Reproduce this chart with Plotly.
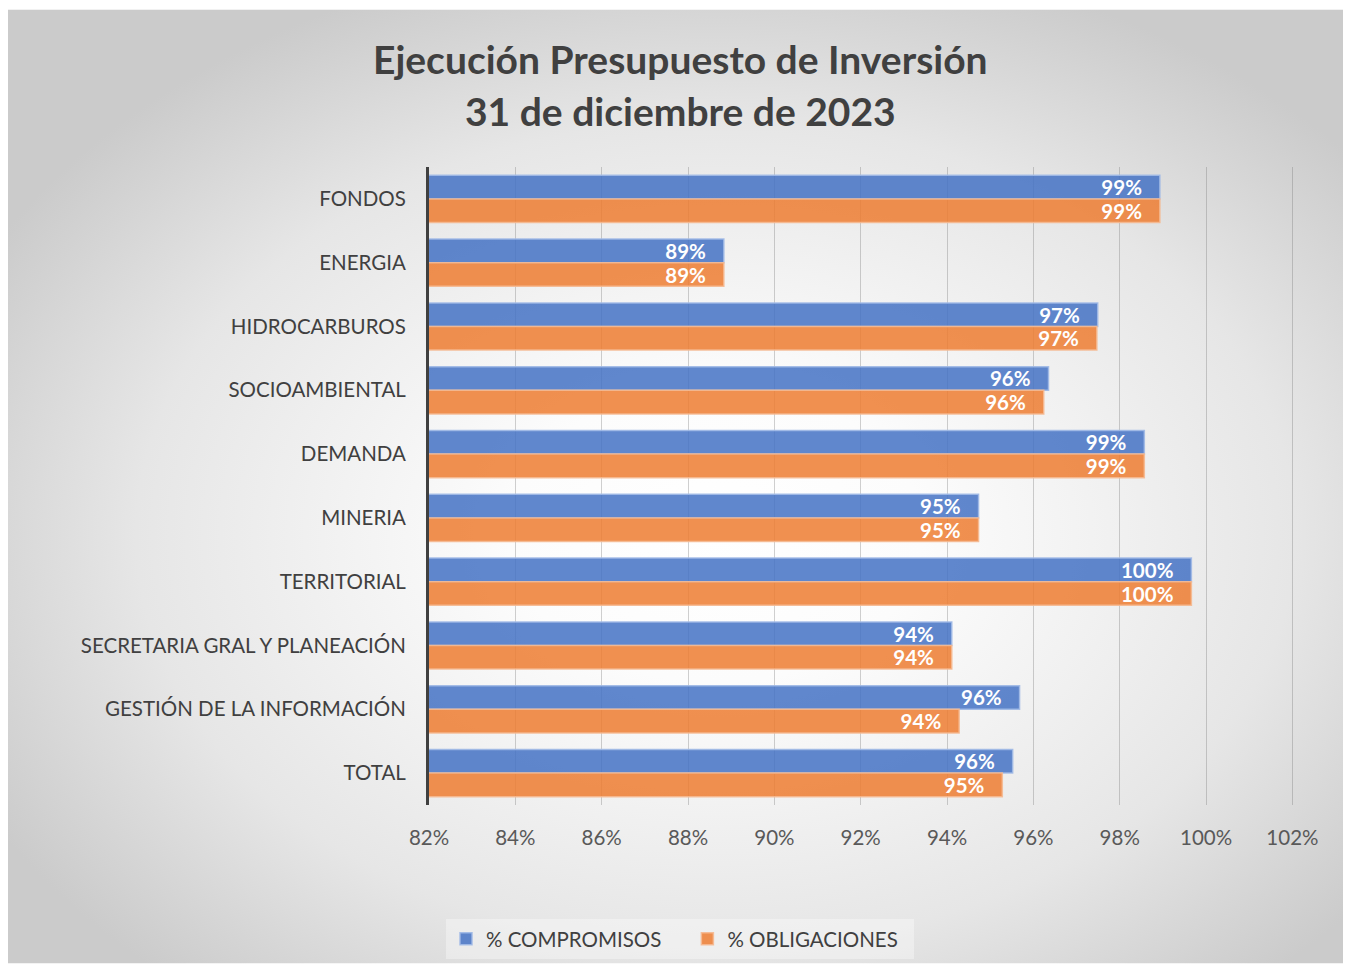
import base64
import plotly.graph_objects as go

# ---- data ----
categories = ["FONDOS", "ENERGIA", "HIDROCARBUROS", "SOCIOAMBIENTAL", "DEMANDA",
              "MINERIA", "TERRITORIAL", "SECRETARIA GRAL Y PLANEACIÓN",
              "GESTIÓN DE LA INFORMACIÓN", "TOTAL"]
compromisos = [98.93, 88.83, 97.49, 96.35, 98.57, 94.73, 99.66, 94.11, 95.68, 95.52]
obligaciones = [98.93, 88.83, 97.47, 96.24, 98.57, 94.73, 99.66, 94.11, 94.28, 95.28]
tick_vals = [82, 84, 86, 88, 90, 92, 94, 96, 98, 100, 102]
tick_text = ["82%", "84%", "86%", "88%", "90%", "92%", "94%", "96%", "98%", "100%", "102%"]
series_names = ["% COMPROMISOS", "% OBLIGACIONES"]

W, H = 1335, 963
FONT = "Lato"
PL, PR, PT, PB = 421, 48, 159, 160
PW, PH = W - PL - PR, H - PT - PB

svg = f'''<svg xmlns="http://www.w3.org/2000/svg" width="{W}" height="{H}">
<defs><radialGradient id="g" cx="0.53" cy="0.55" r="0.62">
<stop offset="0" stop-color="#FFFFFF"/>
<stop offset="0.25" stop-color="#FCFCFC"/>
<stop offset="0.7" stop-color="#E6E6E6"/>
<stop offset="1" stop-color="#CBCBCB"/>
</radialGradient></defs>
<rect x="0" y="0" width="{W}" height="{H}" fill="url(#g)"/>
</svg>'''
bg_src = "data:image/svg+xml;base64," + base64.b64encode(svg.encode()).decode()

fig = go.Figure()
fig.add_trace(go.Bar(
    y=categories, x=compromisos, orientation="h", name=series_names[0] + "\u00a0\u00a0\u00a0\u00a0",
    marker=dict(color="rgba(68,114,196,0.85)", line=dict(color="rgba(160,185,230,0.9)", width=1.5)),
    texttemplate="%{x:.0f}%\u00a0\u00a0\u00a0", textposition="inside", insidetextanchor="end",
    textfont=dict(family=FONT, size=20.5, color="white", weight="bold"),
    constraintext="none", cliponaxis=False,
))
fig.add_trace(go.Bar(
    y=categories, x=obligaciones, orientation="h", name=series_names[1] + "\u00a0\u00a0",
    marker=dict(color="rgba(237,125,49,0.85)", line=dict(color="rgba(245,185,145,0.9)", width=1.5)),
    texttemplate="%{x:.0f}%\u00a0\u00a0\u00a0", textposition="inside", insidetextanchor="end",
    textfont=dict(family=FONT, size=20.5, color="white", weight="bold"),
    constraintext="none", cliponaxis=False,
))

fig.update_layout(
    width=W, height=H,
    margin=dict(l=PL, r=PR, t=PT, b=PB),
    paper_bgcolor="white", plot_bgcolor="rgba(0,0,0,0)",
    barmode="group", bargap=0.26, bargroupgap=0,
    font=dict(family=FONT, color="#404040", size=20),
    images=[dict(source=bg_src, xref="paper", yref="paper", x=-PL / PW, y=1 + PT / PH,
                 sizex=W / PW, sizey=H / PH, xanchor="left", yanchor="top",
                 sizing="stretch", layer="below")],
    xaxis=dict(range=[82, 102.06], tickvals=tick_vals, ticktext=tick_text,
               showgrid=True, gridcolor="rgba(120,120,120,0.35)", gridwidth=1,
               zeroline=False, showline=False, ticks="", ticklabelstandoff=18,
               tickfont=dict(family=FONT, size=20.5, color="#595959")),
    yaxis=dict(autorange="reversed", showline=True, linecolor="#404040", linewidth=3,
               showgrid=False, ticks="", ticklabelstandoff=16,
               tickfont=dict(family=FONT, size=20.5, color="#404040")),
    legend=dict(orientation="h", x=(672 - PL) / PW, xanchor="center", y=-(918 - PT - PH) / PH, yanchor="top",
                bgcolor="rgba(255,255,255,0.35)", font=dict(family=FONT, size=20.5, color="#404040"),
                itemwidth=30, traceorder="normal"),
    annotations=[
        dict(text="<b>Ejecución Presupuesto de Inversión</b>", xref="paper", yref="paper",
             x=(672 - PL) / PW, y=1 + (PT - 50) / PH, xanchor="center", yanchor="middle",
             showarrow=False, font=dict(family=FONT, size=39, color="#404040")),
        dict(text="<b>31 de diciembre de 2023</b>", xref="paper", yref="paper",
             x=(672 - PL) / PW, y=1 + (PT - 102) / PH, xanchor="center", yanchor="middle",
             showarrow=False, font=dict(family=FONT, size=39, color="#404040")),
    ],
)

fig.write_html("out.html")
